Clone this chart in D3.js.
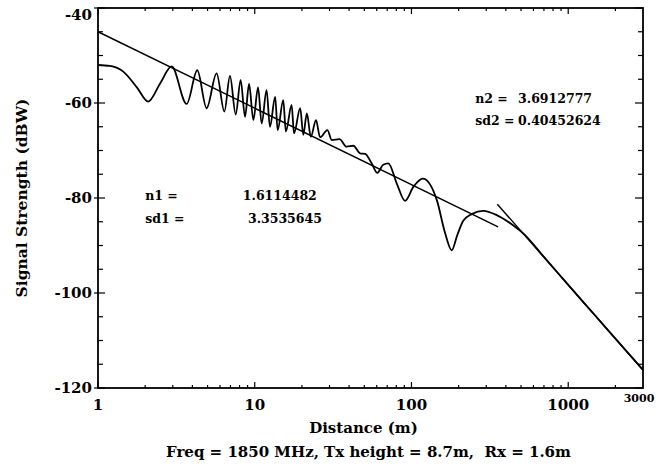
<!DOCTYPE html>
<html>
<head>
<meta charset="utf-8">
<script src="https://cdn.jsdelivr.net/npm/d3@7"></script>
<style>
  html, body { margin: 0; padding: 0; background: #fff; }
  svg { display: block; }
  text { font-family: "DejaVu Serif", "Liberation Serif", serif; font-weight: bold; fill: #000; white-space: pre; }
</style>
</head>
<body>
<svg id="chart" width="669" height="466"></svg>
<script>
// ---- data ----
const distance = [1, 1.19, 1.45, 1.77, 2.09, 2.49, 2.95, 3.68, 4.30, 4.93, 5.71, 6.40, 6.95, 7.56, 8.13, 8.67, 9.2, 9.8,
  10.5, 11.07, 11.9, 12.5, 13.5, 14.0, 15.2, 15.8, 17.2, 17.8, 19.5, 20.4, 21.5, 22.8, 24.6, 26.1, 29.1, 31.0,
  34.7, 38.6, 42.6, 47, 50.6, 55.7, 60.5, 66, 71.2, 80.5, 91, 103, 118, 145, 164, 180.6, 196, 214, 242, 287.6,
  350, 447, 518, 700, 1000, 1500, 2000, 3000];
const signal = [-52.0, -52.2, -53.4, -56.7, -59.7, -55.9, -52.3, -60.2, -53.1, -61.1, -53.75, -61.8, -54.3, -62.4, -55.2, -62.9, -56.0, -63.6,
  -56.7, -64.3, -57.3, -65.0, -58.7, -65.7, -59.4, -66.0, -60.4, -66.4, -61.1, -66.7, -62.2, -67.1, -63.6, -67.2, -65.7, -67.8,
  -67.6, -69.2, -69.0, -70.6, -70.7, -72.7, -74.7, -73.0, -72.7, -76.9, -80.6, -77.6, -75.9, -80.4, -87.4, -91.0, -87.8, -84.8, -83.4, -82.7,
  -83.6, -85.8, -87.5, -92.4, -98.3, -104.9, -109.6, -116.2];
const fit1Distance = [1, 357];
const fit1Signal = [-45.0, -86.1];
const fit2Distance = [353, 3000];
const fit2Signal = [-81.3, -116.2];
const xTickValues = [1, 10, 100, 1000];
const xTickLabels = ["1", "10", "100", "1000"];
const yTickValues = [-40, -60, -80, -100, -120];
const yTickLabels = ["-40", "-60", "-80", "-100", "-120"];
const annotations1 = [["n1 =", "1.6114482"], ["sd1 =", "3.3535645"]];
const annotations2 = [["n2 =", "3.6912777"], ["sd2 =", "0.40452624"]];

// ---- layout ----
const W = 669, H = 466;
const m = { left: 98, right: 26, top: 8, bottom: 78 };
const iw = W - m.left - m.right, ih = H - m.top - m.bottom;
const svg = d3.select("#chart");
const g = svg.append("g").attr("transform", `translate(${m.left},${m.top})`);

const x = d3.scaleLog().domain([1, 3000]).range([0, iw]);
const y = d3.scaleLinear().domain([-120, -40]).range([ih, 0]);

// minor/major ticks
const minorX = [];
for (let k = 0; k < 4; k++) for (let j = 2; j <= 9; j++) { const v = j * Math.pow(10, k); if (v < 3000) minorX.push(v); }
const minorY = d3.range(-115, -40, 5).filter(v => v % 20 !== 0);

const ticks = g.append("g").attr("stroke", "#000").attr("stroke-width", 1.2);
minorX.forEach(v => {
  ticks.append("line").attr("x1", x(v)).attr("x2", x(v)).attr("y1", ih).attr("y2", ih - 3);
  ticks.append("line").attr("x1", x(v)).attr("x2", x(v)).attr("y1", 0).attr("y2", 3);
});
xTickValues.forEach(v => {
  ticks.append("line").attr("x1", x(v)).attr("x2", x(v)).attr("y1", ih).attr("y2", ih - 6);
  ticks.append("line").attr("x1", x(v)).attr("x2", x(v)).attr("y1", 0).attr("y2", 6);
});
minorY.forEach(v => {
  ticks.append("line").attr("x1", 0).attr("x2", 5).attr("y1", y(v)).attr("y2", y(v));
  ticks.append("line").attr("x1", iw).attr("x2", iw - 5).attr("y1", y(v)).attr("y2", y(v));
});
yTickValues.forEach(v => {
  ticks.append("line").attr("x1", -4).attr("x2", 7).attr("y1", y(v)).attr("y2", y(v));
  ticks.append("line").attr("x1", iw).attr("x2", iw - 8).attr("y1", y(v)).attr("y2", y(v));
});

// frame
g.append("rect").attr("x", 0).attr("y", 0).attr("width", iw).attr("height", ih)
  .attr("fill", "none").attr("stroke", "#000").attr("stroke-width", 1.8);

// tick labels
yTickValues.forEach((v, i) => {
  g.append("text").attr("x", -6).attr("y", i === 0 ? y(v) + 7 : y(v)).attr("dy", "0.35em")
    .attr("text-anchor", "end").style("font-size", "15px").text(yTickLabels[i]);
});
xTickValues.forEach((v, i) => {
  g.append("text").attr("x", x(v)).attr("y", ih + 17).attr("dy", "0.35em")
    .attr("text-anchor", "middle").style("font-size", "15px").text(xTickLabels[i]);
});
g.append("text").attr("x", x(3000) - 4).attr("y", ih + 10).attr("dy", "0.35em")
  .attr("text-anchor", "middle").style("font-size", "11px").text("3000");

// lines
const line = d3.line().x(d => x(d[0])).y(d => y(d[1]));
const curveLine = d3.line().x(d => x(d[0])).y(d => y(d[1])).curve(d3.curveMonotoneX);
const lines = g.append("g");
lines.append("path").datum(distance.map((d, i) => [d, signal[i]]))
  .attr("d", curveLine).attr("fill", "none").attr("stroke", "#000").attr("stroke-width", 1.8);
lines.append("path").datum(fit1Distance.map((d, i) => [d, fit1Signal[i]]))
  .attr("d", line).attr("fill", "none").attr("stroke", "#000").attr("stroke-width", 1.4);
lines.append("path").datum(fit2Distance.map((d, i) => [d, fit2Signal[i]]))
  .attr("d", line).attr("fill", "none").attr("stroke", "#000").attr("stroke-width", 1.4);

// annotations (placed in data coordinates)
const ann = g.append("g").style("font-size", "12.5px");
annotations1.forEach((a, i) => {
  const yy = y(-79.5) + i * 23;
  ann.append("text").attr("x", x(2.0)).attr("y", yy).attr("dy", "0.35em").text(a[0]);
  ann.append("text").attr("x", x(i === 0 ? 8.4 : 9.05)).attr("y", yy).attr("dy", "0.35em").text(a[1]);
});
annotations2.forEach((a, i) => {
  const yy = y(-59) + i * 22;
  ann.append("text").attr("x", x(255)).attr("y", yy).attr("dy", "0.35em").text(a[0]);
  ann.append("text").attr("x", x(479)).attr("y", yy).attr("dy", "0.35em").text(a[1]);
});

// axis titles
svg.append("text").attr("transform", `translate(22,${m.top + ih / 2}) rotate(-90)`)
  .attr("text-anchor", "middle").attr("dy", "0.35em").style("font-size", "15.5px").text("Signal Strength (dBW)");
svg.append("text").attr("x", m.left + iw / 2 - 7).attr("y", 428).attr("dy", "0.35em")
  .attr("text-anchor", "middle").style("font-size", "15px").text("Distance (m)");
svg.append("text").attr("x", m.left + iw / 2 - 2).attr("y", 452).attr("dy", "0.35em")
  .attr("text-anchor", "middle").style("font-size", "15px").text("Freq = 1850 MHz, Tx height = 8.7m,  Rx = 1.6m");
</script>
</body>
</html>
